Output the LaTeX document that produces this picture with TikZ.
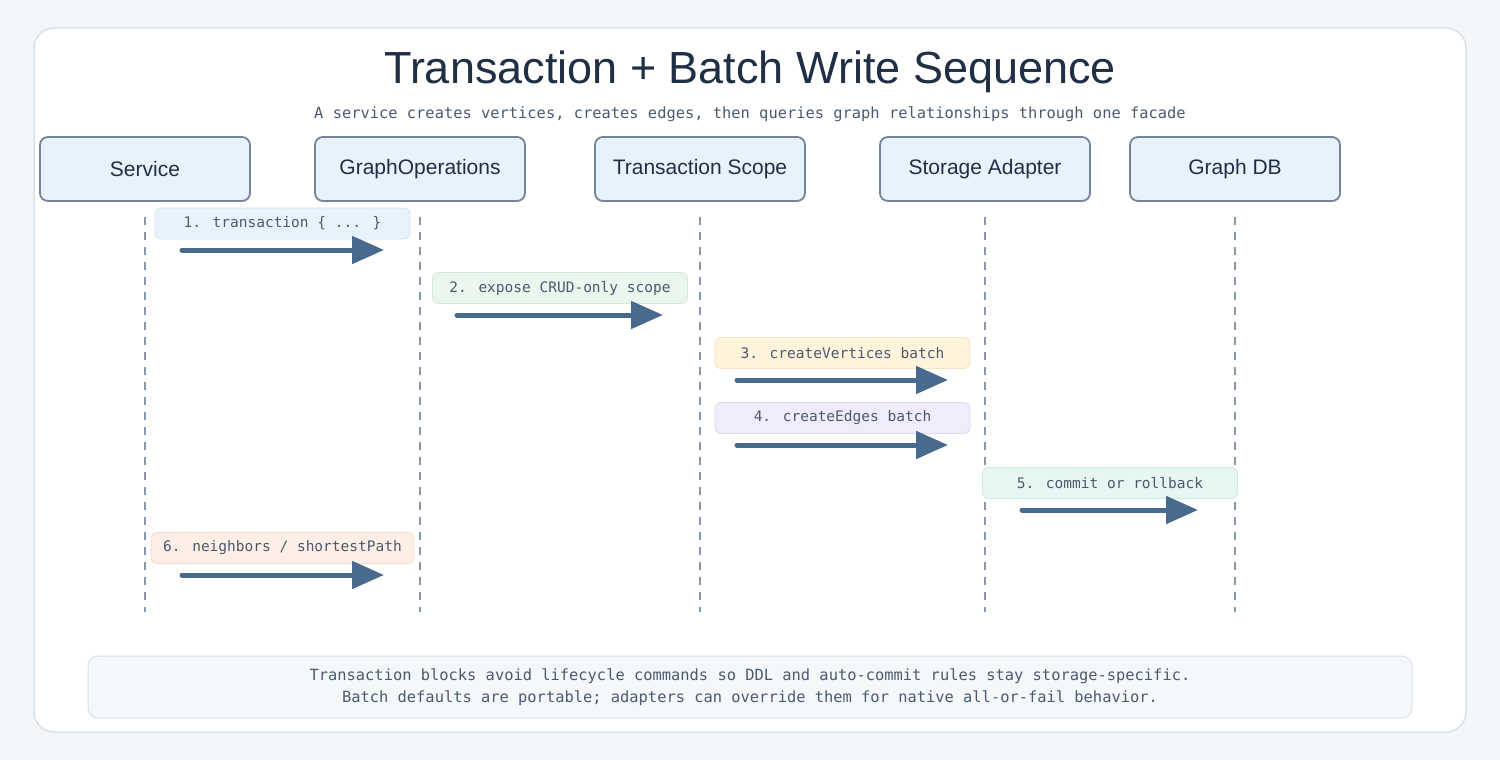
\documentclass[tikz,border=0pt]{standalone}
\usepackage{fontspec}
\setmainfont{Liberation Sans}
\newfontfamily\codefont{DejaVu Sans Mono}
\usepackage{xcolor}
\definecolor{Page}{HTML}{F4F7FA}
\definecolor{CardLine}{HTML}{D9E2EB}
\definecolor{Ink}{HTML}{1F2F45}
\definecolor{Muted}{HTML}{4A5A70}
\definecolor{Slate}{HTML}{74849B}
\definecolor{SkyFill}{HTML}{E8F2FD}
\definecolor{LifeGray}{HTML}{8798AD}
\definecolor{ArrowBlue}{HTML}{476A8E}
\definecolor{BlueTag}{HTML}{E8F2FD}\definecolor{BlueEdge}{HTML}{D3E3F4}
\definecolor{MintTag}{HTML}{EAF6EE}\definecolor{MintEdge}{HTML}{D3EADB}
\definecolor{SandTag}{HTML}{FFF3DC}\definecolor{SandEdge}{HTML}{F1E2C2}
\definecolor{LilacTag}{HTML}{F1ECFB}\definecolor{LilacEdge}{HTML}{E0D8F2}
\definecolor{TealTag}{HTML}{E6F6F3}\definecolor{TealEdge}{HTML}{CEE9E3}
\definecolor{PeachTag}{HTML}{FDEFE6}\definecolor{PeachEdge}{HTML}{F2DCCD}
\definecolor{NoteFill}{HTML}{F5F8FB}
\usepackage{tikz}
\usetikzlibrary{positioning,calc,arrows.meta}

\begin{document}
\begin{tikzpicture}[x=1pt,y=-1pt,
 actor/.style={rectangle,rounded corners=8pt,draw=Slate,line width=1.8pt,fill=SkyFill,
   minimum width=210pt,minimum height=64pt,inner sep=0pt,text=Ink,font=\fontsize{21}{24}\selectfont},
 life/.style={LifeGray,line width=1.5pt,dash pattern=on 8pt off 7pt},
 tag/.style={rectangle,rounded corners=6pt,line width=0.8pt,minimum width=255pt,minimum height=31pt,
   inner xsep=12pt,inner ysep=0pt,text=Muted,font=\codefont\fontsize{14.5}{17}\selectfont},
 msg/.style={ArrowBlue,line width=5pt,line cap=round,-{Triangle[length=32pt,width=27pt]}}]
\useasboundingbox (0,0) rectangle (1500,760);
\fill[Page] (0,0) rectangle (1500,760);
\draw[CardLine,fill=white,line width=1.5pt,rounded corners=20pt] (34,28) rectangle (1466,732);
\node[text=Ink,font=\fontsize{45}{50}\selectfont] (title) at (750,72) {Transaction + Batch Write Sequence};
\node[text=Muted,font=\codefont\fontsize{15.4}{18}\selectfont] (sub) at (750,114)
 {A service creates vertices, creates edges, then queries graph relationships through one facade};
% participants
\node[actor] (svc) at (145,169) {Service};
\node[actor] (ops) at (420,169) {GraphOperations};
\node[actor] (scope) at (700,169) {Transaction Scope};
\node[actor] (adapt) at (985,169) {Storage Adapter};
\node[actor] (db) at (1235,169) {Graph DB};
\draw[life] ([yshift=-15pt]svc.south) -- ([yshift=-410pt]svc.south);
\draw[life] ([yshift=-15pt]ops.south) -- ([yshift=-410pt]ops.south);
\draw[life] ([yshift=-15pt]scope.south) -- ([yshift=-410pt]scope.south);
\draw[life] ([yshift=-15pt]adapt.south) -- ([yshift=-410pt]adapt.south);
\draw[life] ([yshift=-15pt]db.south) -- ([yshift=-410pt]db.south);
% messages
\node[tag,fill=BlueTag,draw=BlueEdge] (t1) at (282.5,223.5) {1. transaction \{ ... \}};
\coordinate (a1) at (182,250); \coordinate (b1) at (384,250);
\draw[msg] (a1) -- (b1);
\node[tag,fill=MintTag,draw=MintEdge] (t2) at (560,288) {2. expose CRUD-only scope};
\coordinate (a2) at (457,315); \coordinate (b2) at (663,315);
\draw[msg] (a2) -- (b2);
\node[tag,fill=SandTag,draw=SandEdge] (t3) at (842.5,353) {3. createVertices batch};
\coordinate (a3) at (737,380); \coordinate (b3) at (948,380);
\draw[msg] (a3) -- (b3);
\node[tag,fill=LilacTag,draw=LilacEdge] (t4) at (842.5,418) {4. createEdges batch};
\coordinate (a4) at (737,445); \coordinate (b4) at (948,445);
\draw[msg] (a4) -- (b4);
\node[tag,fill=TealTag,draw=TealEdge] (t5) at (1110,483) {5. commit or rollback};
\coordinate (a5) at (1022,510); \coordinate (b5) at (1198,510);
\draw[msg] (a5) -- (b5);
\node[tag,fill=PeachTag,draw=PeachEdge] (t6) at (282.5,548) {6. neighbors / shortestPath};
\coordinate (a6) at (182,575); \coordinate (b6) at (384,575);
\draw[msg] (a6) -- (b6);
% footnote
\node[rectangle,rounded corners=10pt,draw=CardLine,fill=NoteFill,line width=1pt,
  minimum width=1324pt,minimum height=62pt,inner sep=0pt,align=center,text=Muted,
  font=\codefont\fontsize{15.4}{22}\selectfont] (note) at (750,687)
 {Transaction blocks avoid lifecycle commands so DDL and auto-commit rules stay storage-specific.\\
  Batch defaults are portable; adapters can override them for native all-or-fail behavior.};
\end{tikzpicture}
\end{document}
